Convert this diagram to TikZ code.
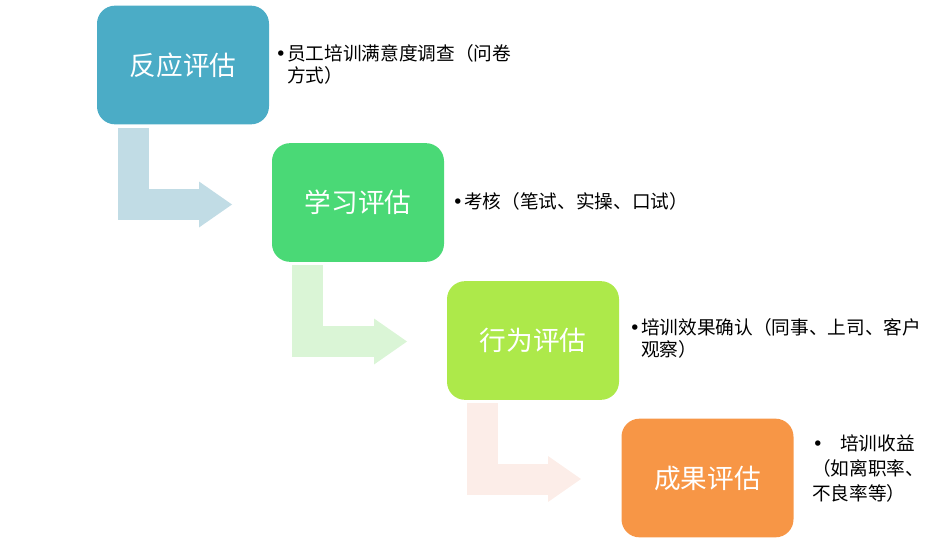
\documentclass[tikz,border=0pt]{standalone}
\usepackage{fontspec}
\setmainfont{Noto Sans CJK SC}
\newfontfamily\dotfont{DejaVu Sans}
\usepackage{tikz}
\usetikzlibrary{arrows.meta,positioning}

\definecolor{evalA}{HTML}{4BACC6}
\definecolor{evalB}{HTML}{4AD976}
\definecolor{evalC}{HTML}{ADE94A}
\definecolor{evalD}{HTML}{F79646}
\definecolor{bendA}{HTML}{C1DCE5}
\definecolor{bendB}{HTML}{DAF5D6}
\definecolor{bendC}{HTML}{FCEDE8}

\newcommand{\bul}{\makebox[9pt][l]{\dotfont •}}

\tikzset{
  evalbox/.style={rounded corners=13.5pt, minimum width=129pt, minimum height=89pt,
    inner sep=0pt, text=white, font=\fontsize{20}{24}\selectfont},
  note/.style={anchor=west, inner sep=0pt, align=left, font=\fontsize{14}{16.5}\selectfont},
  bendarrow/.style={line width=23.25pt, line join=miter,
    -{Triangle[width=34.5pt, length=24.75pt, line width=0pt]}}
}

\begin{document}
\begin{tikzpicture}[x=0.75pt,y=-0.75pt]
\useasboundingbox (0,0) rectangle (937,542);
\node[evalbox, fill=evalA] (E1) at (183,65) {反应评估};
\node[evalbox, fill=evalB] (E2) at (358,202.5) {学习评估};
\node[evalbox, fill=evalC] (E3) at (533,340.5) {行为评估};
\node[evalbox, fill=evalD] (E4) at (707.5,478) {成果评估};
\coordinate (B1s) at (133.5,128);
\coordinate (B1e) at (232,204.5);
\coordinate (B2s) at (307.5,265);
\coordinate (B2e) at (407,341.5);
\coordinate (B3s) at (482.5,403);
\coordinate (B3e) at (581,479);
\draw[bendarrow, bendA] (B1s) |- (B1e);
\draw[bendarrow, bendB] (B2s) |- (B2e);
\draw[bendarrow, bendC] (B3s) |- (B3e);
\node[note] (N1) at (275,64) {\bul 员工培训满意度调查（问卷\\\hspace*{9pt}方式）};
\node[note] (N2) at (452,201) {\bul 考核（笔试、实操、口试）};
\node[note] (N3) at (629,338) {\bul 培训效果确认（同事、上司、客户\\\hspace*{9pt}观察）};
\node[note, font=\fontsize{14}{18.5}\selectfont] (N4) at (812,468.5) {\makebox[21pt][l]{\dotfont •}培训收益\\（如离职率、\\不良率等）};
\end{tikzpicture}
\end{document}
